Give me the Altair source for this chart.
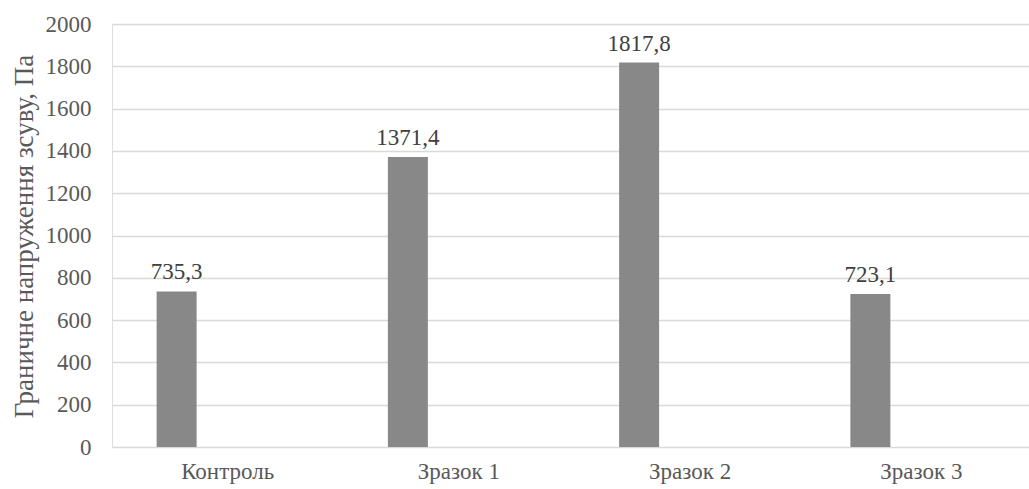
import altair as alt
import pandas as pd

# Yield stress of each sample
categories = ["Контроль", "Зразок 1", "Зразок 2", "Зразок 3"]
values = [735.3, 1371.4, 1817.8, 723.1]
y_ticks = [0, 200, 400, 600, 800, 1000, 1200, 1400, 1600, 1800, 2000]

df = pd.DataFrame({"cat": categories, "val": values})

FONT = "Liberation Serif"
TXT = "#595959"

x_enc = alt.X(
    "cat:N",
    sort=categories,
    title=None,
    scale=alt.Scale(range=[0, 925], paddingInner=0, paddingOuter=0),
    axis=alt.Axis(
        labelAngle=0, domain=False, ticks=False, grid=False,
        labelFont=FONT, labelFontSize=23, labelColor=TXT, labelPadding=13,
    ),
)
y_enc = alt.Y(
    "val:Q",
    title="Граничне напруження зсуву, Па",
    scale=alt.Scale(domain=[0, 2000], nice=False),
    axis=alt.Axis(
        values=y_ticks, format="d", domain=False, ticks=False,
        gridColor="#d9d9d9", gridWidth=1.3,
        labelFont=FONT, labelFontSize=23, labelColor=TXT, labelPadding=21,
        titleFont=FONT, titleFontSize=27, titleFontWeight="normal", titleColor=TXT,
        titleX=-88, titleY=212, titleAngle=270, titleAlign="center",
        titleBaseline="middle",
    ),
)

bars = alt.Chart(df).mark_bar(width=40, xOffset=-51, color="#888888").encode(
    x=x_enc, y=y_enc
)

labels = alt.Chart(df).transform_calculate(
    lbl="replace(format(datum.val, '.1f'), '.', ',')"
).mark_text(
    xOffset=-51, dy=-12, baseline="alphabetic", font=FONT, fontSize=23, color="#404040"
).encode(x=x_enc, y=y_enc, text="lbl:N")

chart = (
    alt.layer(bars, labels)
    .properties(
        width=917,
        height=423,
        autosize=alt.AutoSizeParams(type="none"),
        padding={"left": 112, "top": 24, "right": 0, "bottom": 42},
    )
    .configure_view(stroke=None)
    .configure(background="white")
)

chart.save("out.html", embed_options={"renderer": "svg", "actions": False})
